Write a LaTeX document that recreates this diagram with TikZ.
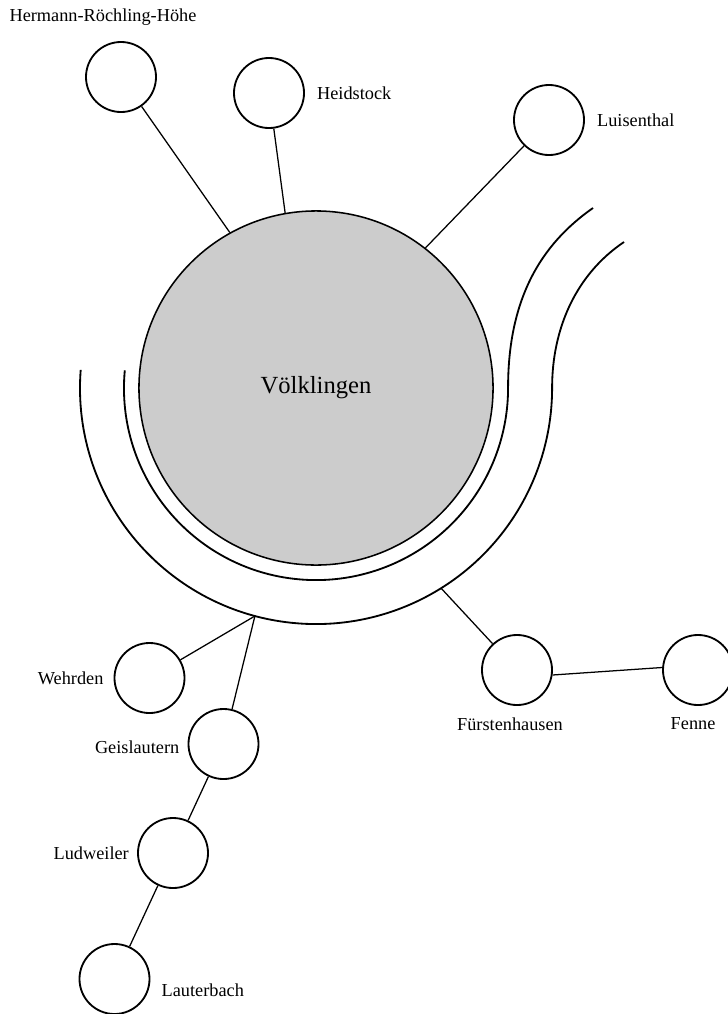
\documentclass[tikz,border=0pt]{standalone}
\usepackage{fontspec}
\setmainfont{Liberation Serif}
\begin{document}
\begin{tikzpicture}[x=0.025cm, y=-0.025cm,
  ort/.style={draw, circle, minimum size=1.75cm, inner sep=0pt, line width=1.3pt},
  weg/.style={line width=0.9pt},
  fluss/.style={line width=1.3pt},
  every label/.style={inner sep=0pt, font=\fontsize{13}{15}\selectfont}]
\useasboundingbox (0,0) rectangle (728,1014);
% Stadt und Ufer
\node[draw, circle, fill=gray!40, line width=1.1pt, minimum size=8.85cm, font=\fontsize{17.5}{20}\selectfont] (volk) at (316,388) {Völklingen};
\node[circle, minimum size=11.8cm, inner sep=0pt, outer sep=0pt] (ufer) at (316,388) {};
% Saar
\draw[fluss] (124.8,370.3) arc[start angle=174.7, end angle=360, radius=4.8cm] .. controls (508,300) and (540,245) .. (593,208);
\draw[fluss] (80.7,369.9) arc[start angle=175.6, end angle=360, radius=5.9cm] .. controls (552,330) and (575,275) .. (624,242);
% Stadtteile
\node[ort, label={[label distance=11pt, xshift=-12.8pt]above:Hermann-Röchling-Höhe}] (hrh) at (121,77) {};
\node[ort, label={[label distance=8.5pt]right:Heidstock}] (heid) at (269,93) {};
\node[ort, label={[label distance=8.5pt]right:Luisenthal}] (luis) at (549,120) {};
\node[ort, label={[label distance=7pt]left:Wehrden}] (wehr) at (149.5,678) {};
\node[ort, label={[label distance=5.7pt, yshift=-2pt]left:Geislautern}] (geis) at (223.5,744) {};
\node[ort, label={[label distance=5.7pt]left:Ludweiler}] (ludw) at (173,853) {};
\node[ort, label={[label distance=7.8pt, yshift=-7.8pt]right:Lauterbach}] (laut) at (114.5,979) {};
\node[ort, label={[label distance=8pt, xshift=-5pt]below:Fürstenhausen}] (fuer) at (517,670) {};
\node[ort, label={[label distance=8pt, xshift=-3.5pt]below:Fenne}] (fenn) at (698,670) {};
% Verbindungen
\coordinate (knick) at (ufer.-105);
\draw[weg] (hrh) -- (volk.119);
\draw[weg] (heid) -- (volk.100);
\draw[weg] (luis) -- (volk.52);
\draw[weg] (wehr) -- (knick);
\draw[weg] (geis) -- (knick);
\draw[weg] (geis) -- (ludw);
\draw[weg] (ludw) -- (laut);
\draw[weg] (fuer) -- (ufer.-58);
\draw[weg] (fuer.-8) -- (fenn.176);
\end{tikzpicture}
\end{document}
